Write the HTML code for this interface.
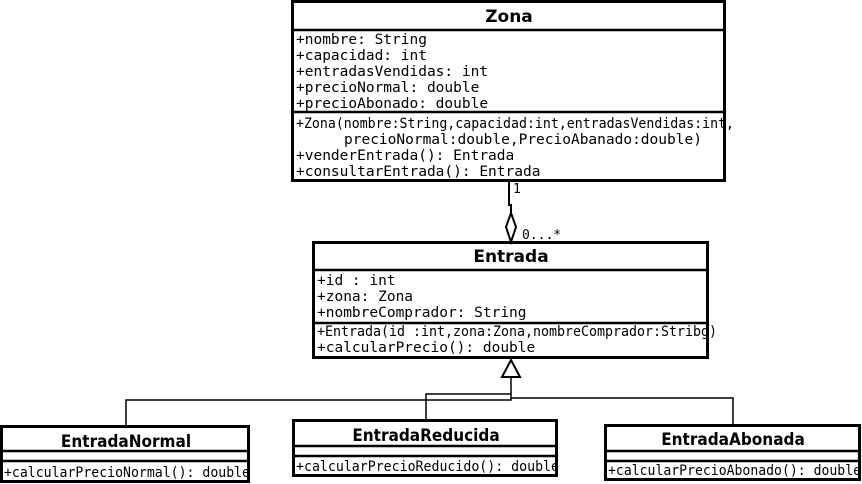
<!DOCTYPE html>
<html><head><meta charset="utf-8"><style>body{margin:0;background:#fff}svg{display:block}</style></head>
<body>
<svg width="862" height="484" xmlns="http://www.w3.org/2000/svg" font-family="DejaVu Sans Mono, Liberation Mono, monospace" font-size="14.5">
<rect x="0" y="0" width="862" height="484" fill="#fff"/>
<g fill="none" stroke="#000">
<rect x="292.5" y="1.5" width="432" height="179" stroke-width="3"/>
<line x1="292" y1="30" x2="725" y2="30" stroke-width="2.5"/>
<line x1="292" y1="112" x2="725" y2="112" stroke-width="2.5"/>
<rect x="313.5" y="242.5" width="394" height="115" stroke-width="3"/>
<line x1="313" y1="270" x2="708" y2="270" stroke-width="2.5"/>
<line x1="313" y1="323" x2="708" y2="323" stroke-width="2.5"/>
<polyline points="509,181 509,205 511,205 511,213" stroke-width="2"/>
<polygon points="511,213 516,227 511,242 506,227" fill="#fff" stroke-width="2"/>
<polygon points="511,360 520,377 502,377" fill="#fff" stroke-width="2"/>
<polyline points="511,377 511,400 126,400 126,426" stroke-width="1.5"/>
<polyline points="511,394 426,394 426,420" stroke-width="1.5"/>
<polyline points="511,398 733,398 733,425" stroke-width="1.5"/>
<rect x="1.5" y="426.5" width="247" height="55" stroke-width="3"/>
<line x1="1" y1="451" x2="249" y2="451" stroke-width="2.5"/>
<line x1="1" y1="461" x2="249" y2="461" stroke-width="2.5"/>
<rect x="293.5" y="420.5" width="263" height="55" stroke-width="3"/>
<line x1="293" y1="446" x2="557" y2="446" stroke-width="2.5"/>
<line x1="293" y1="456" x2="557" y2="456" stroke-width="2.5"/>
<rect x="605.5" y="425.5" width="254" height="54" stroke-width="3"/>
<line x1="605" y1="451" x2="860" y2="451" stroke-width="2.5"/>
<line x1="605" y1="461" x2="860" y2="461" stroke-width="2.5"/>
</g>
<g fill="#000">
<text x="509" y="22" font-family="DejaVu Sans, Liberation Sans, sans-serif" font-weight="bold" font-size="17" text-anchor="middle">Zona</text>
<text x="296" y="44">+nombre: String</text>
<text x="296" y="60">+capacidad: int</text>
<text x="296" y="76">+entradasVendidas: int</text>
<text x="296" y="92">+precioNormal: double</text>
<text x="296" y="108">+precioAbonado: double</text>
<text x="296" y="128" textLength="438" lengthAdjust="spacingAndGlyphs">+Zona(nombre:String,capacidad:int,entradasVendidas:int,</text>
<text x="344" y="144">precioNormal:double,PrecioAbanado:double)</text>
<text x="296" y="160">+venderEntrada(): Entrada</text>
<text x="296" y="176">+consultarEntrada(): Entrada</text>
<text x="513" y="193" font-size="13">1</text>
<text x="522" y="239" font-size="13">0...*</text>
<text x="511" y="262" font-family="DejaVu Sans, Liberation Sans, sans-serif" font-weight="bold" font-size="17" text-anchor="middle">Entrada</text>
<text x="317" y="285">+id : int</text>
<text x="317" y="301">+zona: Zona</text>
<text x="317" y="317">+nombreComprador: String</text>
<text x="317" y="336" textLength="400" lengthAdjust="spacingAndGlyphs">+Entrada(id :int,zona:Zona,nombreComprador:Stribg)</text>
<text x="317" y="352">+calcularPrecio(): double</text>
<g font-family="DejaVu Sans Condensed, DejaVu Sans, Liberation Sans, sans-serif" font-weight="bold" font-size="17" text-anchor="middle">
<text x="126" y="447">EntradaNormal</text>
<text x="426" y="441">EntradaReducida</text>
<text x="733" y="445">EntradaAbonada</text>
</g>
<g font-size="14">
<text x="4" y="477" textLength="246" lengthAdjust="spacingAndGlyphs">+calcularPrecioNormal(): double</text>
<text x="296" y="471" textLength="263" lengthAdjust="spacingAndGlyphs">+calcularPrecioReducido(): double</text>
<text x="608" y="475" textLength="253" lengthAdjust="spacingAndGlyphs">+calcularPrecioAbonado(): double</text>
</g>
</g>
</svg>
</body></html>
